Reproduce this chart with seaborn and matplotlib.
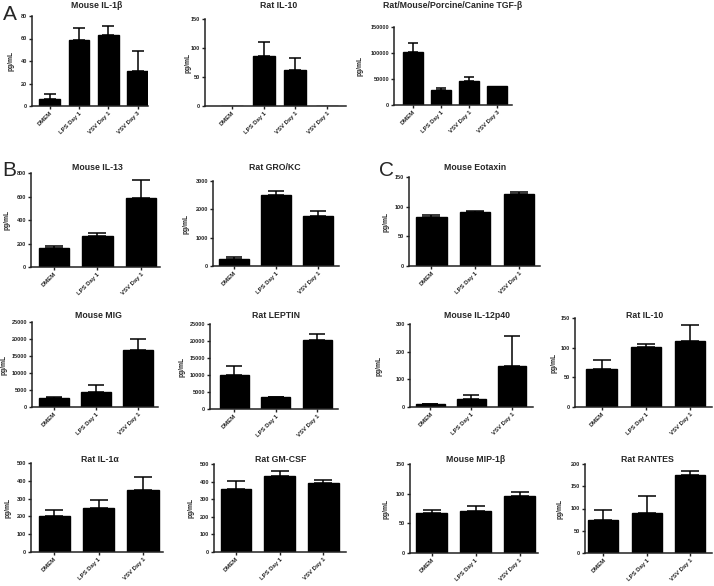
import matplotlib
matplotlib.use("Agg")
import matplotlib.pyplot as plt
import seaborn as sns
import numpy as np
import pandas as pd

sns.set_style("ticks")
plt.rcParams["font.family"] = ["Liberation Sans", "DejaVu Sans"]
plt.rcParams["font.weight"] = "bold"

W, H = 714, 586

# group labels
cats3 = ["DMEM", "LPS Day 1", "VSV Day 1"]
cats4 = ["DMEM", "LPS Day 1", "VSV Day 1", "VSV Day 3"]
cats4_il10 = ["DMEM", "LPS Day 1", "VSV Day 1", "VSV Day 1"]

# panel A
il1b_mean = [6, 58.5, 63.5, 31.5]
il1b_err = [4.5, 10.5, 8, 17]
ratil10a_mean = [0, 86.5, 61.5, 0]
ratil10a_err = [0, 23.5, 22, 0]
tgfb_mean = [102000, 28700, 45400, 37000]
tgfb_err = [18000, 4400, 7600, 0]

# panel B
il13_mean = [160, 265, 586]
il13_err = [20, 22, 152]
grokc_mean = [260, 2520, 1780]
grokc_err = [70, 110, 150]
mig_mean = [2750, 4500, 16750]
mig_err = [200, 2050, 3250]
leptin_mean = [10000, 3450, 20300]
leptin_err = [2650, 200, 1750]
il1a_mean = [203, 247, 349]
il1a_err = [31, 45, 70]
gmcsf_mean = [360, 429, 391]
gmcsf_err = [46, 34, 17]

# panel C
eotaxin_mean = [83, 91, 122]
eotaxin_err = [2.5, 1, 2.5]
il12_mean = [10.5, 30, 149]
il12_err = [1, 15, 109]
ratil10c_mean = [63.5, 101, 111.5]
ratil10c_err = [16, 6, 26.5]
mip1b_mean = [68, 70.5, 96]
mip1b_err = [4, 9.5, 6.5]
rantes_mean = [74, 90, 176]
rantes_err = [22, 39, 9]

# title, labels, means, errs, ymax, ystep,
# box (left, top, right, bottom px), xlim, title centre px, ylabel x px
panels = [
    ("Mouse IL-1\u03b2", cats4, il1b_mean, il1b_err, 80, 20,
     (32, 16, 148, 106), (-0.6, 3.35), (97, 6), 15),
    ("Rat IL-10", cats4_il10, ratil10a_mean, ratil10a_err, 150, 50,
     (205, 19, 346, 106), (-0.85, 3.6), (279, 6), 192),
    ("Rat/Mouse/Porcine/Canine TGF-\u03b2", cats4, tgfb_mean, tgfb_err, 150000, 50000,
     (394, 27, 512, 105), (-0.68, 3.54), (453, 6), 364),
    ("Mouse IL-13", cats3, il13_mean, il13_err, 800, 200,
     (31, 173, 160, 267), (-0.53, 2.44), (97, 168), 11),
    ("Rat GRO/KC", cats3, grokc_mean, grokc_err, 3000, 1000,
     (213, 181, 339, 266), (-0.5, 2.5), (275, 168), 190),
    ("Mouse Eotaxin", cats3, eotaxin_mean, eotaxin_err, 150, 50,
     (409, 177, 540, 266), (-0.51, 2.48), (475, 168), 390),
    ("Mouse MIG", cats3, mig_mean, mig_err, 25000, 5000,
     (32, 322, 158, 407), (-0.52, 2.48), (98, 315), 8),
    ("Rat LEPTIN", cats3, leptin_mean, leptin_err, 25000, 5000,
     (210, 324, 338, 409), (-0.58, 2.5), (276, 315), 186),
    ("Mouse IL-12p40", cats3, il12_mean, il12_err, 300, 100,
     (410, 324, 533, 407), (-0.5, 2.51), (477, 315), 383),
    ("Rat IL-10", cats3, ratil10c_mean, ratil10c_err, 150, 50,
     (575, 318, 712, 407), (-0.61, 2.5), (645, 315), 558),
    ("Rat IL-1\u03b1", cats3, il1a_mean, il1a_err, 500, 100,
     (31, 463, 163, 552), (-0.52, 2.45), (100, 460), 12),
    ("Rat GM-CSF", cats3, gmcsf_mean, gmcsf_err, 500, 100,
     (214, 464, 346, 552), (-0.5, 2.52), (281, 460), 195),
    ("Mouse MIP-1\u03b2", cats3, mip1b_mean, mip1b_err, 150, 50,
     (410, 464, 538, 553), (-0.49, 2.42), (476, 460), 390),
    ("Rat RANTES", cats3, rantes_mean, rantes_err, 200, 50,
     (585, 464, 712, 553), (-0.42, 2.5), (647, 460), 564),
]

fig = plt.figure(figsize=(W / 100, H / 100), dpi=100)

for title, labels, means, errs, ymax, ystep, box, xlim, tpos, ylx in panels:
    l, t, r, b = box
    ax = fig.add_axes([l / W, 1 - b / H, (r - l) / W, (b - t) / H])
    keys = [f"{i}_{lab}" for i, lab in enumerate(labels)]
    df = pd.DataFrame({"group": keys, "value": means})
    sns.barplot(data=df, x="group", y="value", order=keys, color="black",
                edgecolor="black", saturation=1, width=0.7, errorbar=None, ax=ax)
    x = np.arange(len(means))
    e = np.array(errs, dtype=float)
    m = np.array(means, dtype=float)
    keep = e > 0
    px_per_unit = (r - l) / (xlim[1] - xlim[0])
    cap = 0.7 * px_per_unit * 0.28 * 0.72
    ax.errorbar(x[keep], m[keep], yerr=[np.zeros(keep.sum()), e[keep]],
                fmt="none", ecolor="black", elinewidth=1.1, capsize=cap,
                capthick=1.1)
    ax.set_xlim(*xlim)
    ax.set_ylim(0, ymax)
    ticks = np.arange(0, ymax + 1, ystep)
    ax.set_yticks(ticks)
    ax.set_yticklabels([str(int(v)) for v in ticks], fontsize=4, fontweight="bold")
    ax.set_xticks(x)
    ax.set_xticklabels(labels, rotation=45, ha="right", rotation_mode="anchor",
                       fontsize=4.3, fontweight="bold")
    ax.set_xlabel("")
    ax.set_ylabel("pg/mL", fontsize=4.8, fontweight="bold")
    ax.yaxis.set_label_coords((ylx - l) / (r - l), 0.5)
    sns.despine(ax=ax)
    for sp in ("left", "bottom"):
        ax.spines[sp].set_linewidth(1.1)
        ax.spines[sp].set_color("#222222")
    ax.tick_params(axis="both", length=2.2, width=1, pad=1.2, color="#222222")
    fig.text(tpos[0] / W, 1 - tpos[1] / H, title, ha="center", va="center",
             fontsize=6.3, fontweight="bold")

for letter, px, py in [("A", 10, 15), ("B", 9, 171), ("C", 386, 171)]:
    fig.text(px / W, 1 - py / H, letter, ha="center", va="center",
             fontsize=15, fontweight="normal")

fig.savefig("out.png", dpi=100)
